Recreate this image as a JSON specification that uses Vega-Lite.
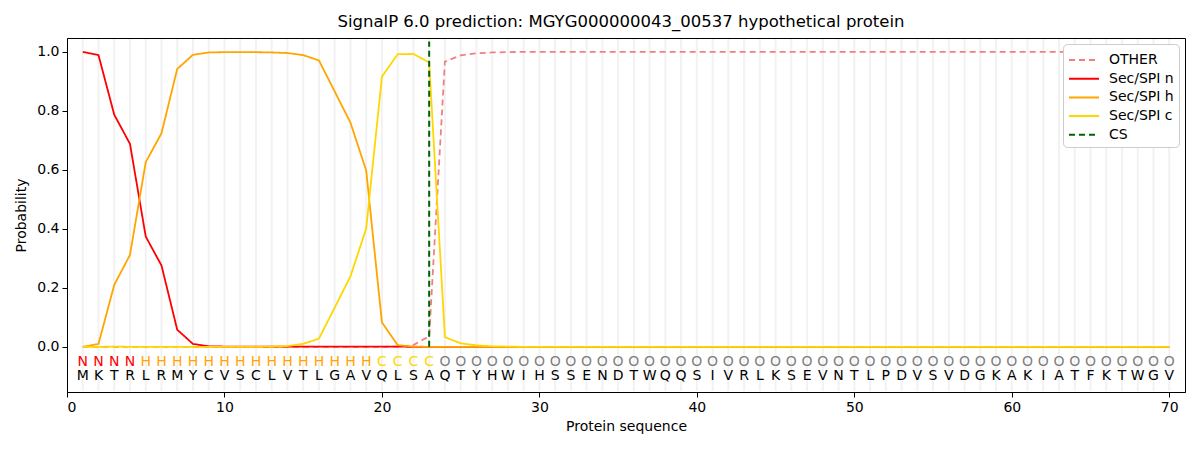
{
  "$schema": "https://vega.github.io/schema/vega-lite/v6.json",
  "width": 1118,
  "height": 354,
  "autosize": {"type": "none"},
  "padding": {"left": 67, "top": 38, "right": 15, "bottom": 58},
  "title": {"text": "SignalP 6.0 prediction: MGYG000000043_00537 hypothetical protein", "fontSize": 16.5, "fontWeight": "normal", "font": "DejaVu Sans", "offset": 7, "dx": -5},
  "config": {
    "font": "DejaVu Sans",
    "view": {"stroke": "black", "strokeWidth": 1},
    "axis": {"labelFontSize": 14, "titleFontSize": 14, "titleFontWeight": "normal", "labelColor": "black", "titleColor": "black", "domainColor": "black", "tickColor": "black", "tickSize": 5, "grid": false, "labelFont": "DejaVu Sans", "titleFont": "DejaVu Sans"},
    "legend": {"labelFont": "DejaVu Sans"}
  },
  "datasets": {
    "seq": [
      {"pos": 1, "aa": "M", "lab": "N", "OTHER": 0, "n": 1.0, "h": 0.0, "c": 0.0},
      {"pos": 2, "aa": "K", "lab": "N", "OTHER": 0, "n": 0.989, "h": 0.01, "c": 0.0},
      {"pos": 3, "aa": "T", "lab": "N", "OTHER": 0, "n": 0.787, "h": 0.21, "c": 0.001},
      {"pos": 4, "aa": "R", "lab": "N", "OTHER": 0, "n": 0.688, "h": 0.312, "c": 0.0},
      {"pos": 5, "aa": "L", "lab": "H", "OTHER": 0, "n": 0.374, "h": 0.626, "c": 0.0},
      {"pos": 6, "aa": "R", "lab": "H", "OTHER": 0, "n": 0.276, "h": 0.724, "c": 0.0},
      {"pos": 7, "aa": "M", "lab": "H", "OTHER": 0, "n": 0.058, "h": 0.942, "c": 0.0},
      {"pos": 8, "aa": "Y", "lab": "H", "OTHER": 0, "n": 0.01, "h": 0.99, "c": 0.0},
      {"pos": 9, "aa": "C", "lab": "H", "OTHER": 0, "n": 0.002, "h": 0.998, "c": 0.0},
      {"pos": 10, "aa": "V", "lab": "H", "OTHER": 0, "n": 0.001, "h": 0.999, "c": 0.0},
      {"pos": 11, "aa": "S", "lab": "H", "OTHER": 0, "n": 0.001, "h": 0.999, "c": 0.0},
      {"pos": 12, "aa": "C", "lab": "H", "OTHER": 0, "n": 0.001, "h": 0.999, "c": 0.0},
      {"pos": 13, "aa": "L", "lab": "H", "OTHER": 0, "n": 0.001, "h": 0.998, "c": 0.001},
      {"pos": 14, "aa": "V", "lab": "H", "OTHER": 0, "n": 0.001, "h": 0.996, "c": 0.003},
      {"pos": 15, "aa": "T", "lab": "H", "OTHER": 0, "n": 0.001, "h": 0.989, "c": 0.01},
      {"pos": 16, "aa": "L", "lab": "H", "OTHER": 0, "n": 0.001, "h": 0.971, "c": 0.028},
      {"pos": 17, "aa": "G", "lab": "H", "OTHER": 0, "n": 0.001, "h": 0.866, "c": 0.133},
      {"pos": 18, "aa": "A", "lab": "H", "OTHER": 0, "n": 0.001, "h": 0.76, "c": 0.239},
      {"pos": 19, "aa": "V", "lab": "H", "OTHER": 0, "n": 0.001, "h": 0.598, "c": 0.401},
      {"pos": 20, "aa": "Q", "lab": "C", "OTHER": 0, "n": 0.001, "h": 0.083, "c": 0.916},
      {"pos": 21, "aa": "L", "lab": "C", "OTHER": 0.001, "n": 0.001, "h": 0.006, "c": 0.992},
      {"pos": 22, "aa": "S", "lab": "C", "OTHER": 0.006, "n": 0.0, "h": 0.001, "c": 0.993},
      {"pos": 23, "aa": "A", "lab": "C", "OTHER": 0.036, "n": 0.0, "h": 0.0, "c": 0.964},
      {"pos": 24, "aa": "Q", "lab": "O", "OTHER": 0.967, "n": 0.0, "h": 0.0, "c": 0.033},
      {"pos": 25, "aa": "T", "lab": "O", "OTHER": 0.988, "n": 0.0, "h": 0.0, "c": 0.012},
      {"pos": 26, "aa": "Y", "lab": "O", "OTHER": 0.995, "n": 0.0, "h": 0.0, "c": 0.005},
      {"pos": 27, "aa": "H", "lab": "O", "OTHER": 0.998, "n": 0.0, "h": 0.0, "c": 0.002},
      {"pos": 28, "aa": "W", "lab": "O", "OTHER": 0.999, "n": 0.0, "h": 0.0, "c": 0.001},
      {"pos": 29, "aa": "I", "lab": "O", "OTHER": 1.0, "n": 0.0, "h": 0.0, "c": 0.0},
      {"pos": 30, "aa": "H", "lab": "O", "OTHER": 1.0, "n": 0.0, "h": 0.0, "c": 0.0},
      {"pos": 31, "aa": "S", "lab": "O", "OTHER": 1.0, "n": 0.0, "h": 0.0, "c": 0.0},
      {"pos": 32, "aa": "S", "lab": "O", "OTHER": 1.0, "n": 0.0, "h": 0.0, "c": 0.0},
      {"pos": 33, "aa": "E", "lab": "O", "OTHER": 1.0, "n": 0.0, "h": 0.0, "c": 0.0},
      {"pos": 34, "aa": "N", "lab": "O", "OTHER": 1.0, "n": 0.0, "h": 0.0, "c": 0.0},
      {"pos": 35, "aa": "D", "lab": "O", "OTHER": 1.0, "n": 0.0, "h": 0.0, "c": 0.0},
      {"pos": 36, "aa": "T", "lab": "O", "OTHER": 1.0, "n": 0.0, "h": 0.0, "c": 0.0},
      {"pos": 37, "aa": "W", "lab": "O", "OTHER": 1.0, "n": 0.0, "h": 0.0, "c": 0.0},
      {"pos": 38, "aa": "Q", "lab": "O", "OTHER": 1.0, "n": 0.0, "h": 0.0, "c": 0.0},
      {"pos": 39, "aa": "Q", "lab": "O", "OTHER": 1.0, "n": 0.0, "h": 0.0, "c": 0.0},
      {"pos": 40, "aa": "S", "lab": "O", "OTHER": 1.0, "n": 0.0, "h": 0.0, "c": 0.0},
      {"pos": 41, "aa": "I", "lab": "O", "OTHER": 1.0, "n": 0.0, "h": 0.0, "c": 0.0},
      {"pos": 42, "aa": "V", "lab": "O", "OTHER": 1.0, "n": 0.0, "h": 0.0, "c": 0.0},
      {"pos": 43, "aa": "R", "lab": "O", "OTHER": 1.0, "n": 0.0, "h": 0.0, "c": 0.0},
      {"pos": 44, "aa": "L", "lab": "O", "OTHER": 1.0, "n": 0.0, "h": 0.0, "c": 0.0},
      {"pos": 45, "aa": "K", "lab": "O", "OTHER": 1.0, "n": 0.0, "h": 0.0, "c": 0.0},
      {"pos": 46, "aa": "S", "lab": "O", "OTHER": 1.0, "n": 0.0, "h": 0.0, "c": 0.0},
      {"pos": 47, "aa": "E", "lab": "O", "OTHER": 1.0, "n": 0.0, "h": 0.0, "c": 0.0},
      {"pos": 48, "aa": "V", "lab": "O", "OTHER": 1.0, "n": 0.0, "h": 0.0, "c": 0.0},
      {"pos": 49, "aa": "N", "lab": "O", "OTHER": 1.0, "n": 0.0, "h": 0.0, "c": 0.0},
      {"pos": 50, "aa": "T", "lab": "O", "OTHER": 1.0, "n": 0.0, "h": 0.0, "c": 0.0},
      {"pos": 51, "aa": "L", "lab": "O", "OTHER": 1.0, "n": 0.0, "h": 0.0, "c": 0.0},
      {"pos": 52, "aa": "P", "lab": "O", "OTHER": 1.0, "n": 0.0, "h": 0.0, "c": 0.0},
      {"pos": 53, "aa": "D", "lab": "O", "OTHER": 1.0, "n": 0.0, "h": 0.0, "c": 0.0},
      {"pos": 54, "aa": "V", "lab": "O", "OTHER": 1.0, "n": 0.0, "h": 0.0, "c": 0.0},
      {"pos": 55, "aa": "S", "lab": "O", "OTHER": 1.0, "n": 0.0, "h": 0.0, "c": 0.0},
      {"pos": 56, "aa": "V", "lab": "O", "OTHER": 1.0, "n": 0.0, "h": 0.0, "c": 0.0},
      {"pos": 57, "aa": "D", "lab": "O", "OTHER": 1.0, "n": 0.0, "h": 0.0, "c": 0.0},
      {"pos": 58, "aa": "G", "lab": "O", "OTHER": 1.0, "n": 0.0, "h": 0.0, "c": 0.0},
      {"pos": 59, "aa": "K", "lab": "O", "OTHER": 1.0, "n": 0.0, "h": 0.0, "c": 0.0},
      {"pos": 60, "aa": "A", "lab": "O", "OTHER": 1.0, "n": 0.0, "h": 0.0, "c": 0.0},
      {"pos": 61, "aa": "K", "lab": "O", "OTHER": 1.0, "n": 0.0, "h": 0.0, "c": 0.0},
      {"pos": 62, "aa": "I", "lab": "O", "OTHER": 1.0, "n": 0.0, "h": 0.0, "c": 0.0},
      {"pos": 63, "aa": "A", "lab": "O", "OTHER": 1.0, "n": 0.0, "h": 0.0, "c": 0.0},
      {"pos": 64, "aa": "T", "lab": "O", "OTHER": 1.0, "n": 0.0, "h": 0.0, "c": 0.0},
      {"pos": 65, "aa": "F", "lab": "O", "OTHER": 1.0, "n": 0.0, "h": 0.0, "c": 0.0},
      {"pos": 66, "aa": "K", "lab": "O", "OTHER": 1.0, "n": 0.0, "h": 0.0, "c": 0.0},
      {"pos": 67, "aa": "T", "lab": "O", "OTHER": 1.0, "n": 0.0, "h": 0.0, "c": 0.0},
      {"pos": 68, "aa": "W", "lab": "O", "OTHER": 1.0, "n": 0.0, "h": 0.0, "c": 0.0},
      {"pos": 69, "aa": "G", "lab": "O", "OTHER": 1.0, "n": 0.0, "h": 0.0, "c": 0.0},
      {"pos": 70, "aa": "V", "lab": "O", "OTHER": 1.0, "n": 0.0, "h": 0.0, "c": 0.0}
    ],
    "cs": [{"pos": 23, "key": "CS"}]
  },
  "encoding": {
    "x": {
      "field": "pos",
      "type": "quantitative",
      "title": "Protein sequence",
      "scale": {"domain": [0, 71], "nice": false, "zero": false},
      "axis": {"values": [0, 10, 20, 30, 40, 50, 60, 70], "labelPadding": 3, "titlePadding": 5}
    }
  },
  "layer": [
    {
      "data": {"name": "seq"},
      "mark": {"type": "rule", "color": "#f2f2f2", "strokeWidth": 2},
      "encoding": {
        "y": {"datum": 1.044, "type": "quantitative"},
        "y2": {"datum": -0.15}
      }
    },
    {
      "data": {"name": "seq"},
      "transform": [{"fold": ["OTHER", "n", "h", "c"], "as": ["key", "prob"]}],
      "mark": {"type": "line", "strokeWidth": 1.8},
      "encoding": {
        "y": {
          "field": "prob",
          "type": "quantitative",
          "title": "Probability",
          "scale": {"domain": [-0.153, 1.047], "nice": false, "zero": false},
          "axis": {"values": [0, 0.2, 0.4, 0.6, 0.8, 1.0], "format": ".1f", "labelPadding": 3, "titlePadding": 8}
        },
        "color": {
          "field": "key",
          "type": "nominal",
          "scale": {"domain": ["OTHER", "n", "h", "c", "CS"], "range": ["#f08080", "#ff0000", "#ffa500", "#ffd700", "#006400"]},
          "legend": {"title": null, "orient": "top-right", "offset": 6, "symbolType": "M-1.5,0H1.5", "symbolSize": 400, "symbolOffset": 5, "symbolStrokeWidth": 2, "labelFontSize": 14, "labelOffset": 14, "rowPadding": 0.7, "padding": 5, "fillColor": "white", "strokeColor": "#cccccc", "cornerRadius": 4, "labelExpr": "{'OTHER': 'OTHER', 'n': 'Sec/SPI n', 'h': 'Sec/SPI h', 'c': 'Sec/SPI c', 'CS': 'CS'}[datum.label]"}
        },
        "strokeDash": {
          "field": "key",
          "type": "nominal",
          "scale": {"domain": ["OTHER", "n", "h", "c", "CS"], "range": [[6, 4], [1, 0], [1, 0], [1, 0], [6, 4]]},
          "legend": {"title": null, "orient": "top-right", "offset": 6, "symbolType": "M-1.5,0H1.5", "symbolSize": 400, "symbolOffset": 5, "symbolStrokeWidth": 2, "labelFontSize": 14, "labelOffset": 14, "rowPadding": 0.7, "padding": 5, "fillColor": "white", "strokeColor": "#cccccc", "cornerRadius": 4, "labelExpr": "{'OTHER': 'OTHER', 'n': 'Sec/SPI n', 'h': 'Sec/SPI h', 'c': 'Sec/SPI c', 'CS': 'CS'}[datum.label]"}
        }
      }
    },
    {
      "data": {"name": "cs"},
      "mark": {"type": "rule", "strokeWidth": 2},
      "encoding": {
        "y": {"datum": 0, "type": "quantitative"},
        "y2": {"datum": 1.035},
        "color": {"field": "key", "type": "nominal"},
        "strokeDash": {"field": "key", "type": "nominal"}
      }
    },
    {
      "data": {"name": "seq"},
      "mark": {"type": "text", "fontSize": 14, "baseline": "middle", "align": "center"},
      "encoding": {
        "y": {"datum": -0.05, "type": "quantitative"},
        "text": {"field": "lab"},
        "color": {
          "condition": [
            {"test": "datum.lab === 'N'", "value": "#ff0000"},
            {"test": "datum.lab === 'H'", "value": "#ffa500"},
            {"test": "datum.lab === 'C'", "value": "#ffd700"}
          ],
          "value": "#808080"
        }
      }
    },
    {
      "data": {"name": "seq"},
      "mark": {"type": "text", "fontSize": 14, "baseline": "middle", "align": "center", "color": "black"},
      "encoding": {
        "y": {"datum": -0.1, "type": "quantitative"},
        "text": {"field": "aa"}
      }
    }
  ]
}
